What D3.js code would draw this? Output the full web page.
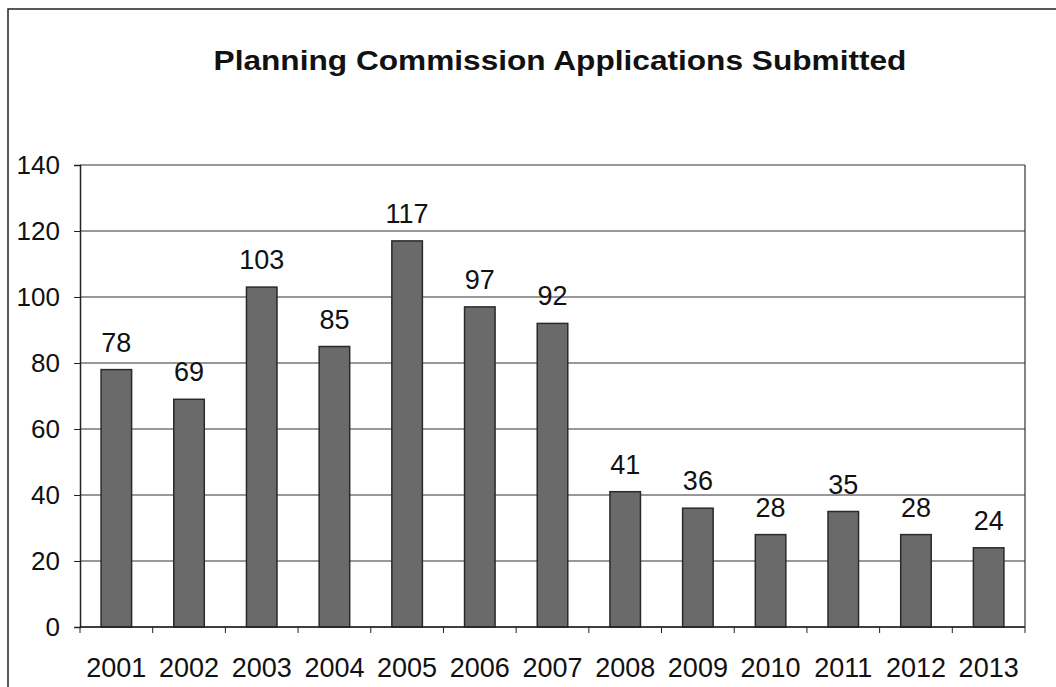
<!DOCTYPE html>
<html>
<head>
<meta charset="utf-8">
<script src="https://cdn.jsdelivr.net/npm/d3@7"></script>
<style>
  body { margin: 0; background: #fff; }
  svg { font-family: "Liberation Sans", Arial, sans-serif; }
</style>
</head>
<body>
<svg id="chart" width="1056" height="687"></svg>
<script>
const years = ["2001", "2002", "2003", "2004", "2005", "2006", "2007", "2008", "2009", "2010", "2011", "2012", "2013"];
const applications = [78, 69, 103, 85, 117, 97, 92, 41, 36, 28, 35, 28, 24];
const yTicks = [0, 20, 40, 60, 80, 100, 120, 140];

const svg = d3.select("#chart");
const plotLeft = 80, plotRight = 1025, plotTop = 165, plotBottom = 627;

// outer frame of the chart (scan shows left and top edges)
svg.append("path")
  .attr("d", "M8,687 L8,9 L1056,9")
  .attr("fill", "none")
  .attr("stroke", "#222")
  .attr("stroke-width", 1.5);

// title - scan is a bit stretched horizontally
svg.append("text")
  .attr("transform", "translate(560,70) scale(1.13,1)")
  .attr("text-anchor", "middle")
  .attr("font-size", 28)
  .attr("font-weight", "bold")
  .attr("fill", "#111")
  .text("Planning Commission Applications Submitted");

const x = d3.scaleBand().domain(years).range([plotLeft, plotRight]).paddingInner(0.58).paddingOuter(0.29);
const y = d3.scaleLinear().domain([0, 140]).range([plotBottom, plotTop]);

// gridlines
svg.append("g")
  .selectAll("line")
  .data(yTicks)
  .join("line")
  .attr("x1", plotLeft)
  .attr("x2", plotRight)
  .attr("y1", d => y(d))
  .attr("y2", d => y(d))
  .attr("stroke", "#333")
  .attr("stroke-width", 1.2);

// plot border right side
svg.append("line")
  .attr("x1", plotRight).attr("x2", plotRight)
  .attr("y1", plotTop).attr("y2", plotBottom)
  .attr("stroke", "#333").attr("stroke-width", 1.2);

// y axis
const yAxis = svg.append("g")
  .attr("transform", "translate(" + plotLeft + ",0)")
  .call(d3.axisLeft(y).tickValues(yTicks).tickSize(6).tickPadding(14));
yAxis.select(".domain").attr("stroke", "#222").attr("stroke-width", 1.5);
yAxis.selectAll(".tick line").attr("stroke", "#222");
yAxis.selectAll("text").attr("font-size", 26).attr("fill", "#111")
  .attr("font-family", "Liberation Sans, Arial, sans-serif");

// bars
svg.append("g")
  .selectAll("rect")
  .data(applications)
  .join("rect")
  .attr("x", (d, i) => x(years[i]))
  .attr("y", d => y(d))
  .attr("width", x.bandwidth())
  .attr("height", d => plotBottom - y(d))
  .attr("fill", "#6a6a6a")
  .attr("stroke", "#2a2a2a")
  .attr("stroke-width", 1.5);

// value labels
svg.append("g")
  .selectAll("text")
  .data(applications)
  .join("text")
  .attr("x", (d, i) => x(years[i]) + x.bandwidth() / 2)
  .attr("y", d => y(d) - 18)
  .attr("text-anchor", "middle")
  .attr("font-size", 27)
  .attr("fill", "#111")
  .text(d => d);

// x axis with ticks between categories
const xAxis = svg.append("g").attr("transform", "translate(0," + plotBottom + ")");
xAxis.append("line")
  .attr("x1", plotLeft).attr("x2", plotRight)
  .attr("stroke", "#222").attr("stroke-width", 1.5);
const step = x.step();
xAxis.selectAll(".sep")
  .data(d3.range(years.length + 1))
  .join("line")
  .attr("class", "sep")
  .attr("x1", i => plotLeft + i * step)
  .attr("x2", i => plotLeft + i * step)
  .attr("y1", 0).attr("y2", 6)
  .attr("stroke", "#222");
xAxis.selectAll(".lbl")
  .data(years)
  .join("text")
  .attr("class", "lbl")
  .attr("x", d => x(d) + x.bandwidth() / 2)
  .attr("y", 50)
  .attr("text-anchor", "middle")
  .attr("font-size", 27)
  .attr("fill", "#111")
  .text(d => d);
</script>
</body>
</html>
